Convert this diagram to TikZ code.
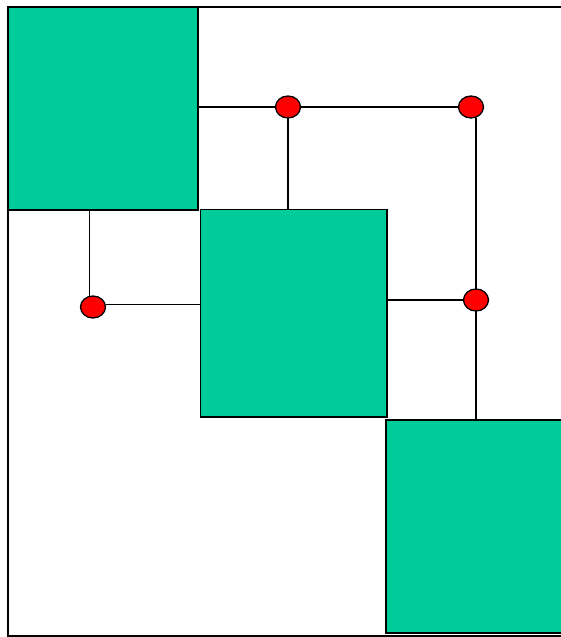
\documentclass[tikz,border=0pt]{standalone}
\usepackage{tikz}
\usetikzlibrary{shapes.geometric}
\definecolor{blockgreen}{HTML}{00CC99}
\tikzset{
  blockbox/.style={draw, fill=blockgreen, line width=1.4pt, inner sep=0pt, outer sep=0pt},
  joint/.style={draw, ellipse, fill=red, line width=1.3pt, minimum width=25pt, minimum height=22pt, inner sep=0pt, outer sep=0pt},
  wire/.style={line width=1.5pt},
}
\begin{document}
\begin{tikzpicture}[x=1pt, y=-1pt]
  \clip (0,0) rectangle (561,637);
  \useasboundingbox (0,0) rectangle (561,637);
  \draw[line width=1.5pt] (8,7) rectangle (590,636);

  \node[blockbox, minimum width=190pt, minimum height=203pt] (b1) at (103,108.5) {};
  \node[blockbox, minimum width=186.5pt, minimum height=207.5pt] (b2) at (293.75,313.25) {};
  \node[blockbox, minimum width=204pt, minimum height=213pt] (b3) at (488,526.5) {};

  \node[joint] (ja) at (288,107) {};
  \node[joint] (jb) at (471,107) {};
  \node[joint] (jc) at (93,307) {};
  \node[joint] (jd) at (476,300) {};

  \draw[wire] (b1.east |- ja) -- (ja.west);
  \draw[wire] (ja.east) -- (jb.west);
  \draw[wire] (ja.south) -- (ja.south |- b2.north);
  \draw[wire] (jd.north) -- (jd.north |- jb.south);
  \draw[wire] (jd.south) -- (jd.south |- b3.north);
  \draw[wire] (b2.east |- jd) -- (jd.west);
  \draw[wire] ([xshift=-3.5pt]jc.north) -- ([xshift=-3.5pt]jc.north |- b1.south);
  \draw[wire] ([yshift=2.5pt]jc.east) -- ([yshift=2.5pt]jc.east -| b2.west);
\end{tikzpicture}
\end{document}
